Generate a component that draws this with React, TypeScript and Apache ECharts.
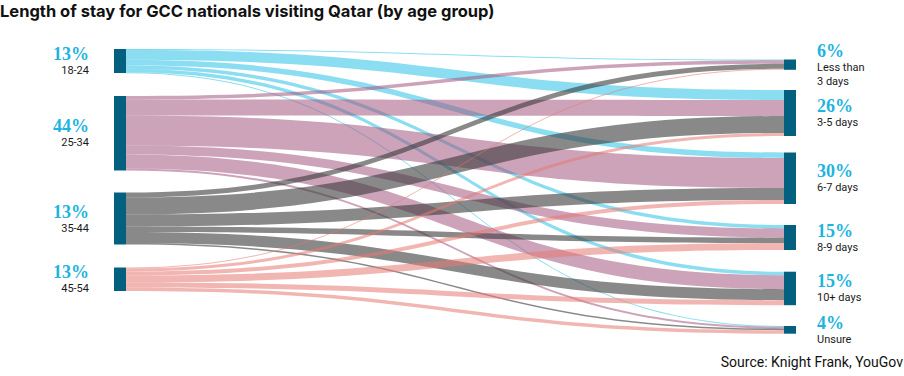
import React, { useEffect, useRef } from "react";
import * as echarts from "echarts";

// ---- data ----
const ageGroups = ["18-24", "25-34", "35-44", "45-54"];
const agePercents = ["13%", "44%", "13%", "13%"];
const stayGroups = ["Less than\n3 days", "3-5 days", "6-7 days", "8-9 days", "10+ days", "Unsure"];
const stayPercents = ["6%", "26%", "30%", "15%", "15%", "4%"];
// flows from each age group to each stay length (same order as stayGroups)
const flows18to24 = [0.8, 10, 5.5, 3.5, 3.5, 0.7];
const flows25to34 = [3.5, 16, 30, 9, 14, 2];
const flows35to44 = [5, 17, 12, 5.5, 11, 1.5];
const flows45to54 = [1, 3, 4, 7, 5, 3.5];
const flowsByAge = [flows18to24, flows25to34, flows35to44, flows45to54];

// ---- layout / style ----
const SERIES_LEFT = 114;
const SERIES_TOP = 40;
const SERIES_WIDTH = 682;
const SERIES_HEIGHT = 300;
const leftNodeTops = [49, 96, 192.5, 267.5];
const rightNodeTops = [59.5, 90, 152.5, 225, 271.7, 326];
const edgeBaseColors = ["#3ec6e8", "#a2577f", "#3a3a3a", "#e57a72"];
const edgeOpacities = [0.6, 0.55, 0.6, 0.55];

export default function App() {
  const ref = useRef<HTMLDivElement>(null);

  useEffect(() => {
    if (!ref.current) return;
    const chart = echarts.init(ref.current, undefined, { renderer: "svg" });

    let total = 0;
    flowsByAge.forEach((row) => row.forEach((v) => (total += v)));
    const nodeGap = (SERIES_HEIGHT - total) / (stayGroups.length - 1);

    const rich = {
      p: {
        fontFamily: "Liberation Serif",
        fontWeight: "bold",
        fontSize: 18,
        lineHeight: 19,
        color: "#1eb4e0",
      },
      t: {
        fontFamily: "Roboto",
        fontSize: 11,
        lineHeight: 14,
        color: "#1a1a1a",
      },
    };

    const nodes: any[] = [];
    ageGroups.forEach((name, i) => {
      nodes.push({
        name,
        localY: (leftNodeTops[i] - SERIES_TOP) / SERIES_HEIGHT,
        label: {
          position: "left",
          distance: 25,
          formatter: `{p|${agePercents[i]}}\n{t|${name}}`,
          rich,
        },
      });
    });
    stayGroups.forEach((name, i) => {
      const lines = name.split("\n").map((l) => `{t|${l}}`).join("\n");
      nodes.push({
        name,
        localY: (rightNodeTops[i] - SERIES_TOP) / SERIES_HEIGHT,
        label: {
          position: "right",
          distance: 21,
          formatter: `{p|${stayPercents[i]}}\n${lines}`,
          rich,
        },
      });
    });

    const links: any[] = [];
    flowsByAge.forEach((row, a) => {
      row.forEach((v, s) => {
        links.push({
          source: ageGroups[a],
          target: stayGroups[s],
          value: v,
          lineStyle: { color: edgeBaseColors[a], opacity: edgeOpacities[a] },
        });
      });
    });

    chart.setOption({
      animation: false,
      title: {
        text: "Length of stay for GCC nationals visiting Qatar (by age group)",
        left: 0,
        top: 2,
        padding: 0,
        textStyle: {
          fontFamily: "Inter",
          fontWeight: "bold",
          fontSize: 16.5,
          color: "#111",
        },
      },
      graphic: [
        {
          type: "text",
          right: 1,
          top: 355,
          style: {
            text: "Source: Knight Frank, YouGov",
            fontFamily: "Roboto",
            fontSize: 14,
            fill: "#111",
          },
        },
      ],
      series: [
        {
          type: "sankey",
          left: SERIES_LEFT,
          top: SERIES_TOP,
          width: SERIES_WIDTH,
          height: SERIES_HEIGHT,
          nodeWidth: 12,
          nodeGap,
          layoutIterations: 0,
          draggable: false,
          emphasis: { disabled: true },
          itemStyle: { color: "#04607f", borderWidth: 0 },
          lineStyle: { curveness: 0.5 },
          data: nodes,
          links,
        },
      ],
    });

    return () => chart.dispose();
  }, []);

  return (
    <div
      ref={ref}
      style={{ position: "fixed", left: 0, top: 0, width: 904, height: 376, background: "#fff" }}
    />
  );
}
